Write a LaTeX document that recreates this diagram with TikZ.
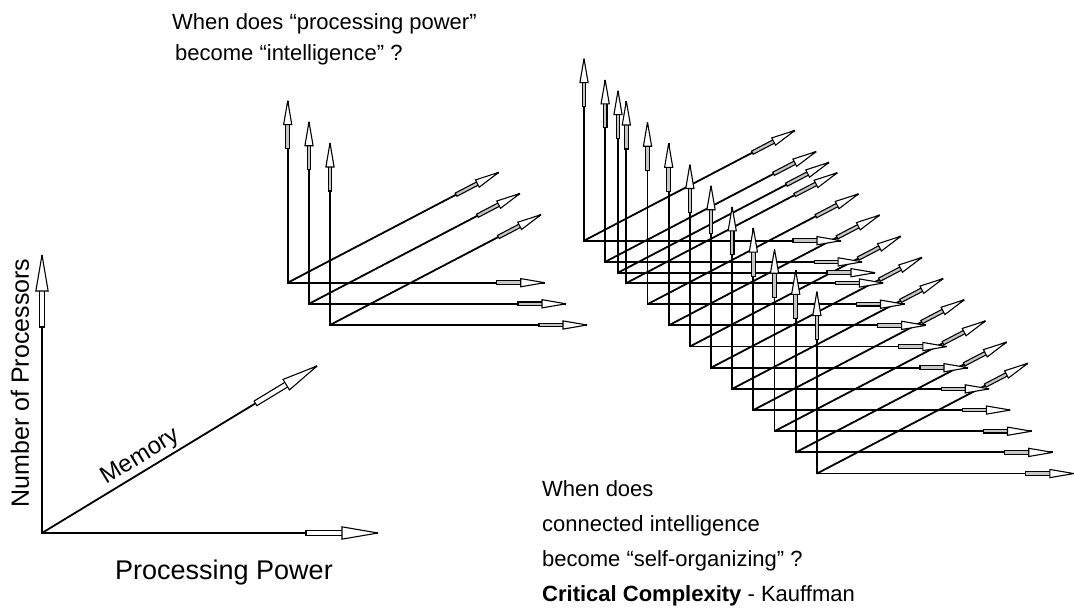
\documentclass[tikz,border=0pt]{standalone}
\usepackage{fontspec}
\setmainfont{Liberation Sans}
\usetikzlibrary{calc}
\tikzset{
  shaft/.style={line width=1.8pt, line cap=butt, line join=miter},
  blockpart/.style={line width=1.1pt, draw=black, line join=miter, miter limit=4},
  txt/.style={font=\fontsize{22}{35}\selectfont, inner sep=0pt, align=left},
}
% block arrow head: #1 tip coordinate, #2 angle, #3 scale, #4 fill of the stem part
\newcommand{\blockhead}[4]{%
  \begin{scope}[shift={(#1)}, rotate=#2, scale=#3]
    \draw[blockpart, fill=#4] (-48,-1.8) rectangle (-23,1.8);
    \draw[blockpart, fill=white] (0,0) -- (-24,4.1) -- (-24,-4.1) -- cycle;
  \end{scope}}
\begin{document}
\begin{tikzpicture}[x=1pt,y=1pt]
\useasboundingbox (0,0) rectangle (1074,-609);

% ---------- left, large axes ----------
\coordinate (L) at (42,-533);
\coordinate (Lv) at (42,-255);
\coordinate (Lh) at (378,-533);
\coordinate (Ld) at (317,-366);
\draw[shaft] (Lv) -- (L) -- (Lh);
\draw[shaft] (L) -- node[pos=0.385, sloped, above=2pt, inner sep=0pt, font=\fontsize{24}{28}\selectfont] (mem) {Memory} (Ld);
\blockhead{Lv}{90}{1.5}{white}
\blockhead{Lh}{0}{1.5}{white}
\blockhead{Ld}{31.27}{1.5}{white}

% ---------- small axis sets ----------
\foreach \x/\y [count=\i] in {287.7/282.7, 309/303.8, 330/325,
   584/240.7, 605.17/261.87, 618/272.7, 626.34/283.04, 647.51/304.21,
   668.68/325.38, 689.85/346.55, 711.02/367.72, 732.19/388.89,
   753.36/410.06, 774.53/431.23, 795.7/452.4, 816.87/473.57} {
  \coordinate (o\i) at (\x,-\y);
  \coordinate (v\i) at ($(o\i)+(0,182)$);
  \coordinate (h\i) at ($(o\i)+(257,0)$);
  \coordinate (d\i) at ($(o\i)+(27.6:238)$);
  \draw[shaft] (v\i) -- (o\i) -- (h\i);
  \draw[shaft] (o\i) -- (d\i);
}
\foreach \i in {1,...,16} {
  \blockhead{v\i}{90}{1}{gray!45}
  \blockhead{h\i}{0}{1}{gray!45}
  \blockhead{d\i}{27.6}{1}{gray!45}
}

% ---------- texts ----------
\node[txt, anchor=north west, font=\fontsize{22}{31}\selectfont] (q1) at (172,-13)
  {When does “processing power”\\\hspace{3pt}become “intelligence” ?};
\node[txt, anchor=center, font=\fontsize{27}{32}\selectfont] (pp) at (224,-573) {Processing Power};
\node[txt, anchor=center, rotate=90, font=\fontsize{25}{30}\selectfont] (np) at (20,-383) {Number of Processors};
\node[txt, anchor=north west] (q2) at (542,-480)
  {When does\\connected intelligence\\become “self-organizing” ?\\\textbf{Critical Complexity} - Kauffman};
\end{tikzpicture}
\end{document}
